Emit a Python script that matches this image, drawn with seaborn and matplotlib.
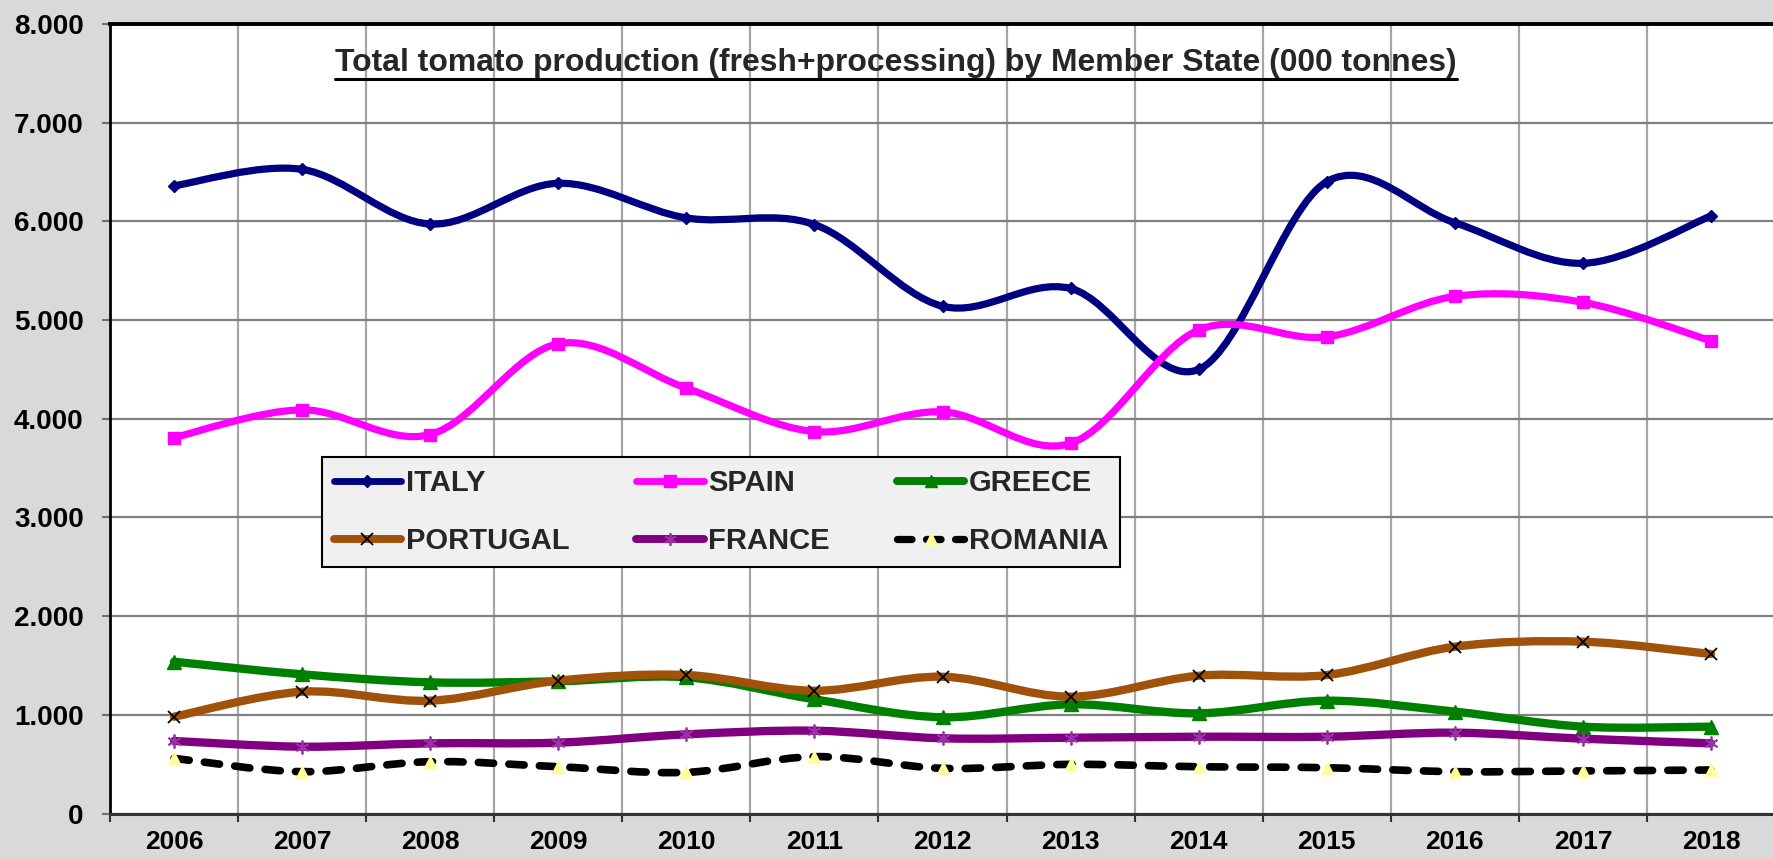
import numpy as np
import pandas as pd
import matplotlib
matplotlib.use("Agg")
import matplotlib.pyplot as plt
import seaborn as sns
from matplotlib.path import Path
from matplotlib.patches import PathPatch
from matplotlib.lines import Line2D
from matplotlib.ticker import FuncFormatter, MultipleLocator
from matplotlib import font_manager

# data (000 tonnes)
years = [str(y) for y in range(2006, 2019)]
italy = [6361, 6527, 5973, 6386, 6035, 5968, 5140, 5320, 4500, 6402, 5986, 5575, 6054]
spain = [3810, 4090, 3840, 4760, 4310, 3870, 4070, 3750, 4900, 4830, 5240, 5180, 4790]
greece = [1538, 1410, 1329, 1340, 1380, 1157, 975, 1106, 1015, 1143, 1032, 880, 880]
portugal = [981, 1234, 1143, 1346, 1403, 1244, 1386, 1184, 1396, 1403, 1690, 1741, 1616]
france = [735, 677, 711, 718, 802, 839, 762, 768, 778, 778, 819, 758, 711]
romania = [559, 424, 525, 474, 417, 576, 458, 498, 474, 464, 424, 431, 441]
countries = ["ITALY", "SPAIN", "GREECE", "PORTUGAL", "FRANCE", "ROMANIA"]
title = "Total tomato production (fresh+processing) by Member State (000 tonnes)"

df = pd.DataFrame({"year": years, "ITALY": italy, "SPAIN": spain, "GREECE": greece,
                   "PORTUGAL": portugal, "FRANCE": france, "ROMANIA": romania})
df["pos"] = np.arange(len(years))

# line / marker styles
styles = {
    "ITALY": dict(color="#000080", lw=5.2, ls="-", marker="D", ms=6.5, mfc="#000080", mec="#000080", mew=1),
    "SPAIN": dict(color="#ff00ff", lw=5.2, ls="-", marker="s", ms=9, mfc="#ff00ff", mec="#ff00ff", mew=1),
    "GREECE": dict(color="#008000", lw=6, ls="-", marker="^", ms=10, mfc="#008000", mec="#008000", mew=1),
    "PORTUGAL": dict(color="#a0520a", lw=6, ls="-", marker="x", ms=9, mfc="k", mec="#000000", mew=1.3),
    "FRANCE": dict(color="#800080", lw=6, ls="-", marker=(6, 2, 0), ms=10, mfc="#9933aa", mec="#9933aa", mew=1.3),
    "ROMANIA": dict(color="#000000", lw=5.5, ls=(0, (2.0, 2.0)), marker="^", ms=9, mfc="#ffff99", mec="#ffff99", mew=1),
}

sns.set_theme(style="white")
plt.rcParams["font.family"] = ["Liberation Sans", "DejaVu Sans"]
names = {f.name for f in font_manager.fontManager.ttflist}
narrow = "Liberation Sans Narrow" if "Liberation Sans Narrow" in names else "Liberation Sans"

W, H = 1773, 859
fig = plt.figure(figsize=(W / 100, H / 100), dpi=100, facecolor="#d9d9d9")
ax = fig.add_axes([110 / W, (H - 813.5) / H, 1665 / W, 789.5 / H])
ax.set_facecolor("white")


def smooth_path(xs, ys):
    # excel-like smoothed line: cubic bezier through the points
    pts = np.column_stack([xs, ys]).astype(float)
    n = len(pts)
    verts = [pts[0]]
    codes = [Path.MOVETO]
    for i in range(n - 1):
        p_prev = pts[i - 1] if i > 0 else pts[i]
        p_next = pts[i + 2] if i + 2 < n else pts[i + 1]
        c1 = pts[i] + (pts[i + 1] - p_prev) / 6
        c2 = pts[i + 1] - (p_next - pts[i]) / 6
        verts += [c1, c2, pts[i + 1]]
        codes += [Path.CURVE4] * 3
    return Path(verts, codes)


for z, name in enumerate(countries):
    st = styles[name]
    patch = PathPatch(smooth_path(df["pos"], df[name]), facecolor="none", edgecolor=st["color"],
                      lw=st["lw"], linestyle=st["ls"], capstyle="round", joinstyle="round", zorder=3 + z)
    ax.add_patch(patch)
    sns.lineplot(data=df, x="pos", y=name, ax=ax, linestyle="none", marker=st["marker"],
                 markersize=st["ms"], markerfacecolor=st["mfc"], markeredgecolor=st["mec"],
                 markeredgewidth=st["mew"], zorder=3.5 + z)

ax.set_xlim(-0.5, len(years) - 0.5)
ax.set_ylim(0, 8000)
ax.yaxis.set_major_locator(MultipleLocator(1000))
ax.yaxis.set_major_formatter(FuncFormatter(lambda v, p: f"{v:,.0f}".replace(",", ".")))
ax.set_xticks(np.arange(-0.5, len(years), 1))
ax.set_xticklabels([])
ax.set_xticks(np.arange(len(years)), minor=True)
ax.set_xticklabels(years, minor=True)
ax.set_xlabel("")
ax.set_ylabel("")

ax.tick_params(axis="y", which="major", left=True, length=6, width=1.5, color="#707070",
               pad=13, labelsize=20, labelcolor="black")
ax.tick_params(axis="x", which="major", bottom=True, length=6, width=1.5, color="#303030")
ax.tick_params(axis="x", which="minor", length=0, pad=12, labelsize=19, labelcolor="black")
for lab in ax.get_yticklabels() + ax.get_xticklabels(minor=True):
    lab.set_fontweight("bold")

ax.set_axisbelow(True)
ax.grid(axis="y", color="#808080", lw=1.6)
ax.grid(axis="x", which="major", color="#a6a6a6", lw=1.6)
for side in ["left", "top"]:
    ax.spines[side].set_color("black")
    ax.spines[side].set_linewidth(2)
ax.spines["top"].set_linewidth(2.8)
ax.spines["bottom"].set_color("#333333")
ax.spines["bottom"].set_linewidth(2.2)
ax.spines["right"].set_visible(False)

# legend, filled row by row like the original (matplotlib fills columns)
ncol = 3
order = [countries[r * ncol + c] for c in range(ncol) for r in range(len(countries) // ncol)]
handles = []
for name in order:
    st = styles[name]
    handles.append(Line2D([], [], color=st["color"], lw=st["lw"] * 0.95, linestyle=st["ls"],
                          dash_capstyle="round", solid_capstyle="round",
                          marker=st["marker"], markersize=st["ms"], markerfacecolor=st["mfc"],
                          markeredgecolor=st["mec"], markeredgewidth=st["mew"]))
leg = fig.legend(handles, order, ncol=ncol, loc="center left", bbox_to_anchor=(322 / W, 1 - 512 / H),
                 prop={"family": "Liberation Sans", "weight": "bold", "size": 21},
                 frameon=True, fancybox=False, framealpha=1, facecolor="#f0f0f0", edgecolor="black",
                 handlelength=2.3, handletextpad=0.17, columnspacing=2.3, labelspacing=1.02,
                 borderpad=0.4, borderaxespad=0, markerscale=0.9)
leg.get_frame().set_linewidth(1.5)

# title, underlined, scaled to the reference width
t = fig.text(896 / W, 1 - 70.7 / H, title, ha="center", va="baseline",
             fontsize=26, fontweight="bold", family=narrow)
fig.canvas.draw()
r = fig.canvas.get_renderer()
bb = t.get_window_extent(r)
t.set_fontsize(26 * 1120 / bb.width)
fig.canvas.draw()
bb = t.get_window_extent(r)
fig.add_artist(Line2D([bb.x0 / W, bb.x1 / W], [(bb.y0 - 1) / H, (bb.y0 - 1) / H],
                      transform=fig.transFigure, color="black", lw=2.2))

fig.savefig("out.png", dpi=100, facecolor=fig.get_facecolor())
